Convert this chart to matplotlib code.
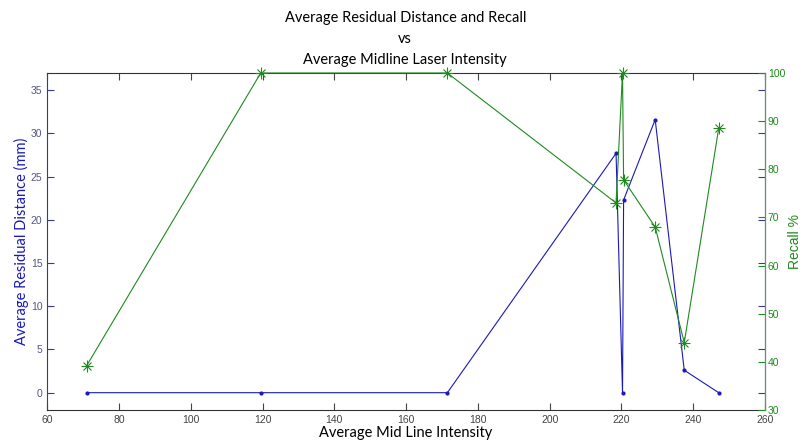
import matplotlib.pyplot as plt

# data
intensity = [71.0, 119.5, 171.5, 218.5, 220.3, 220.6, 229.4, 237.5, 247.1]
residual = [0.0, 0.0, 0.0, 27.7, 0.0, 22.3, 31.6, 2.6, 0.0]
recall = [39.2, 100.0, 100.0, 73.0, 100.0, 77.8, 68.0, 44.0, 88.5]

xticks = [60, 80, 100, 120, 140, 160, 180, 200, 220, 240, 260]
left_ticks = [0, 5, 10, 15, 20, 25, 30, 35]
right_ticks = [30, 40, 50, 60, 70, 80, 90, 100]

blue = '#1a1ab8'
green = '#1f8a1f'
tickfont = 'Liberation Sans'
labelfont = 'Lato'

fig = plt.figure(figsize=(8.04, 4.45), dpi=100)
ax1 = fig.add_axes([0.0587, 0.0787, 0.8928, 0.7573])
ax2 = ax1.twinx()

ax1.plot(intensity, residual, color=blue, marker='.', markersize=4, linewidth=0.8)
# MATLAB style asterisk marker: '+' on top of 'x'
ax2.plot(intensity, recall, color=green, marker='+', markersize=8, linewidth=0.8,
         markeredgewidth=0.8, clip_on=False)
ax2.plot(intensity, recall, color=green, marker='x', markersize=6, linewidth=0,
         markeredgewidth=0.8, clip_on=False)

ax1.set_xlim(60, 260)
ax1.set_ylim(-2, 37)
ax2.set_ylim(30, 100)
ax1.set_xticks(xticks)
ax1.set_yticks(left_ticks)
ax2.set_yticks(right_ticks)

for lab in ax1.get_xticklabels() + ax1.get_yticklabels() + ax2.get_yticklabels():
    lab.set_fontfamily(tickfont)
    lab.set_fontsize(7.5)

ax1.tick_params(axis='x', direction='in', top=True, colors='#444444', length=5, width=0.8)
ax1.tick_params(axis='y', direction='in', right=True, color='#3a3a90',
                labelcolor='#555588', length=5, width=0.8)
ax2.tick_params(axis='y', direction='in', colors=green, length=5, width=0.8, pad=2)

for sp in ax1.spines.values():
    sp.set_color('#333333')
    sp.set_linewidth(0.8)
ax1.spines['left'].set_color('#3a3a80')
ax2.spines['right'].set_color('#5a9a5a')
ax2.spines['left'].set_visible(False)
ax2.spines['top'].set_visible(False)
ax2.spines['bottom'].set_visible(False)

ax1.set_xlabel('Average Mid Line Intensity', fontsize=10.5, family=labelfont, labelpad=1)
ax1.set_ylabel('Average Residual Distance (mm)', fontsize=10.5, family=labelfont,
               color=blue, labelpad=1)
ax2.set_ylabel('Recall %', fontsize=10, family=tickfont, color=green, labelpad=2)

fig.text(0.504, 0.96, 'Average Residual Distance and Recall', ha='center', va='center',
         fontsize=10.5, family=labelfont)
fig.text(0.504, 0.912, 'vs', ha='center', va='center', fontsize=10.5, family=labelfont)
fig.text(0.504, 0.866, 'Average Midline Laser Intensity', ha='center', va='center',
         fontsize=10.5, family=labelfont)

plt.savefig('out.png', dpi=100)
